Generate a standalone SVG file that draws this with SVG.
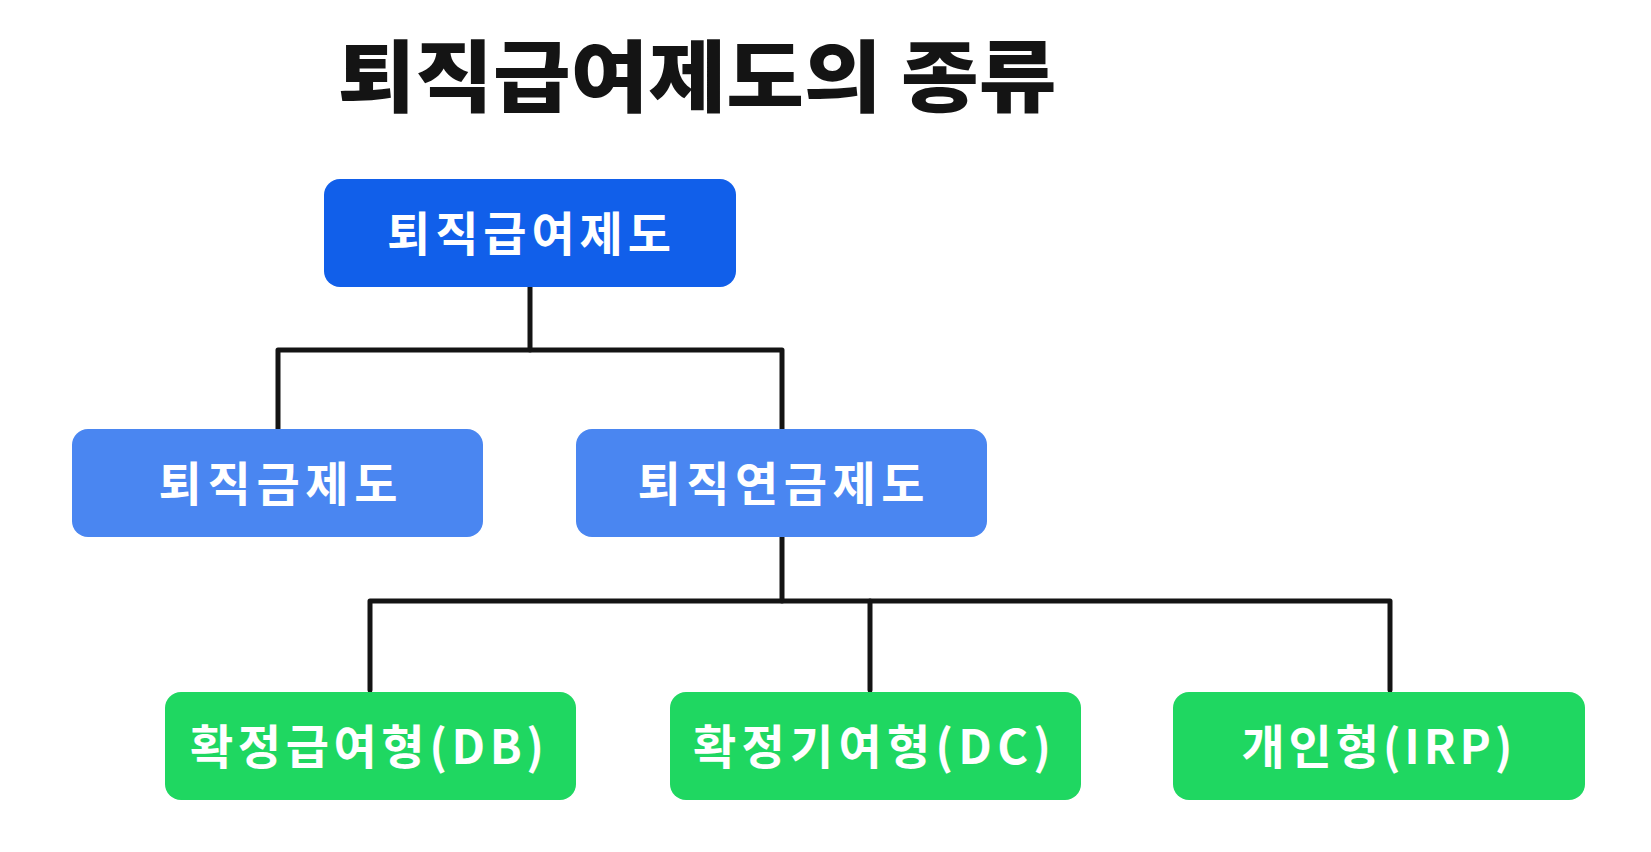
<svg xmlns="http://www.w3.org/2000/svg" width="1651" height="852" viewBox="0 0 1651 852">
<style>
.title{font-family:"Noto Sans CJK KR","Noto Sans",sans-serif;font-weight:900;font-size:78px;fill:#141414;text-anchor:middle}
.lbl{font-family:"Noto Sans CJK KR","Noto Sans",sans-serif;font-weight:700;font-size:47px;fill:#ffffff;text-anchor:middle}
.root{fill:#115FEA}
.mid{fill:#4A86F1}
.leaf{fill:#1FD761}
.conn{fill:none;stroke:#141414;stroke-width:5;stroke-linecap:round;stroke-linejoin:round}
</style>
<rect width="1651" height="852" fill="#ffffff"/>
<text class="title" x="697" y="106" textLength="719" lengthAdjust="spacingAndGlyphs">퇴직급여제도의 종류</text>
<g id="connectors">
<path class="conn" d="M530,287 V350"/>
<path class="conn" d="M278,429 V350 H782 V429"/>
<path class="conn" d="M782,537 V601"/>
<path class="conn" d="M370,690 V601 H1390 V690"/>
<path class="conn" d="M870,601 V690"/>
</g>
<g id="n-root">
<rect class="root" x="324" y="179" width="412" height="108" rx="16"/>
<text class="lbl" x="529" y="251" textLength="284" lengthAdjust="spacing">퇴직급여제도</text>
</g>
<g id="n-severance">
<rect class="mid" x="72" y="429" width="411" height="108" rx="16"/>
<text class="lbl" x="278" y="501" textLength="239" lengthAdjust="spacing">퇴직금제도</text>
</g>
<g id="n-pension">
<rect class="mid" x="576" y="429" width="411" height="108" rx="16"/>
<text class="lbl" x="781" y="501" textLength="287" lengthAdjust="spacing">퇴직연금제도</text>
</g>
<g id="n-db">
<rect class="leaf" x="165" y="692" width="411" height="108" rx="16"/>
<text class="lbl" x="367" y="764" textLength="354" lengthAdjust="spacing">확정급여형(DB)</text>
</g>
<g id="n-dc">
<rect class="leaf" x="670" y="692" width="411" height="108" rx="16"/>
<text class="lbl" x="872" y="764" textLength="358" lengthAdjust="spacing">확정기여형(DC)</text>
</g>
<g id="n-irp">
<rect class="leaf" x="1173" y="692" width="412" height="108" rx="16"/>
<text class="lbl" x="1377" y="764" textLength="271" lengthAdjust="spacing">개인형(IRP)</text>
</g>
</svg>
